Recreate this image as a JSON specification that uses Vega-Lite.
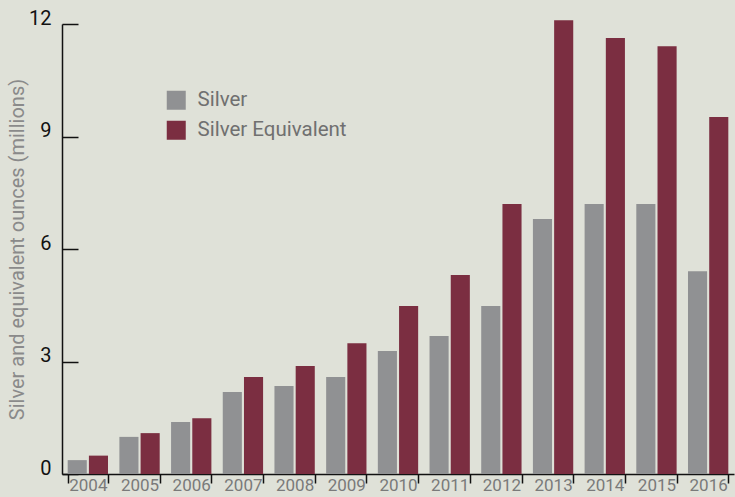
{
  "$schema": "https://vega.github.io/schema/vega-lite/v6.json",
  "width": 672,
  "height": 450,
  "autosize": {"type": "none"},
  "padding": {"left": 62, "top": 24, "right": 1, "bottom": 23},
  "background": "#dfe1d8",
  "config": {
    "view": {"stroke": null},
    "font": "Roboto"
  },
  "data": {
    "values": [
      {"year": "2004", "series": "Silver", "value": 0.37},
      {"year": "2004", "series": "Silver Equivalent", "value": 0.49},
      {"year": "2005", "series": "Silver", "value": 0.99},
      {"year": "2005", "series": "Silver Equivalent", "value": 1.09},
      {"year": "2006", "series": "Silver", "value": 1.39},
      {"year": "2006", "series": "Silver Equivalent", "value": 1.49},
      {"year": "2007", "series": "Silver", "value": 2.19},
      {"year": "2007", "series": "Silver Equivalent", "value": 2.59},
      {"year": "2008", "series": "Silver", "value": 2.35},
      {"year": "2008", "series": "Silver Equivalent", "value": 2.88},
      {"year": "2009", "series": "Silver", "value": 2.59},
      {"year": "2009", "series": "Silver Equivalent", "value": 3.49},
      {"year": "2010", "series": "Silver", "value": 3.28},
      {"year": "2010", "series": "Silver Equivalent", "value": 4.48},
      {"year": "2011", "series": "Silver", "value": 3.68},
      {"year": "2011", "series": "Silver Equivalent", "value": 5.31},
      {"year": "2012", "series": "Silver", "value": 4.48},
      {"year": "2012", "series": "Silver Equivalent", "value": 7.2},
      {"year": "2013", "series": "Silver", "value": 6.8},
      {"year": "2013", "series": "Silver Equivalent", "value": 12.1},
      {"year": "2014", "series": "Silver", "value": 7.2},
      {"year": "2014", "series": "Silver Equivalent", "value": 11.63},
      {"year": "2015", "series": "Silver", "value": 7.2},
      {"year": "2015", "series": "Silver Equivalent", "value": 11.41},
      {"year": "2016", "series": "Silver", "value": 5.41},
      {"year": "2016", "series": "Silver Equivalent", "value": 9.52}
    ]
  },
  "mark": {"type": "bar"},
  "encoding": {
    "x": {
      "field": "year",
      "type": "nominal",
      "scale": {"paddingInner": 0.22, "paddingOuter": 0.11},
      "axis": {
        "title": null,
        "labelAngle": 0,
        "labelColor": "#7a7a7a",
        "labelFontSize": 17,
        "labelPadding": -6,
        "tickBand": "extent",
        "tickSize": 9,
        "tickColor": "#111111",
        "tickWidth": 1.5,
        "domainColor": "#111111",
        "domainWidth": 1.5
      }
    },
    "xOffset": {
      "field": "series",
      "type": "nominal",
      "scale": {"paddingInner": 0.1}
    },
    "y": {
      "field": "value",
      "type": "quantitative",
      "scale": {"domain": [0, 12], "nice": false},
      "axis": {
        "values": [0, 3, 6, 9, 12],
        "title": "Silver and equivalent ounces (millions)",
        "titleColor": "#8a8a8a",
        "titleFontSize": 20,
        "titleFontWeight": "normal",
        "titlePadding": 1,
        "labelColor": "#111111",
        "labelFontSize": 20,
        "labelBaseline": "alphabetic",
        "labelPadding": 27,
        "tickSize": -16,
        "tickColor": "#111111",
        "tickWidth": 1.5,
        "domainColor": "#111111",
        "domainWidth": 1.5,
        "grid": false
      }
    },
    "color": {
      "field": "series",
      "type": "nominal",
      "scale": {"domain": ["Silver", "Silver Equivalent"], "range": ["#909193", "#7b2e41"]},
      "legend": {
        "title": null,
        "orient": "none",
        "legendX": 104,
        "legendY": 66,
        "symbolType": "square",
        "symbolSize": 361,
        "symbolStrokeWidth": 0,
        "labelFontSize": 20.5,
        "labelColor": "#707070",
        "labelOffset": 11,
        "rowPadding": 9
      }
    }
  }
}
